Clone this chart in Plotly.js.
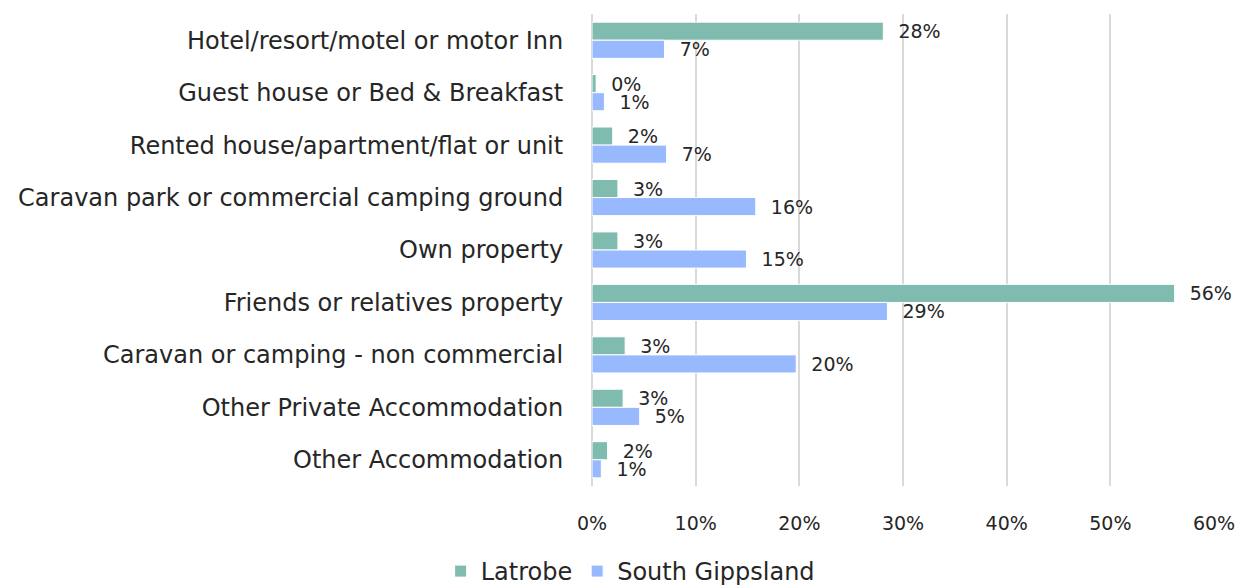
<!DOCTYPE html>
<html><head><meta charset="utf-8">
<script src="https://cdn.plot.ly/plotly-3.0.1.min.js"></script>
<style>html,body{margin:0;padding:0;background:#fff;overflow:hidden}#chart{width:1238px;height:594px}</style>
</head><body><div id="chart"></div>
<script>
const categories = [
  "Hotel/resort/motel or motor Inn",
  "Guest house or Bed & Breakfast",
  "Rented house/apartment/flat or unit",
  "Caravan park or commercial camping ground",
  "Own property",
  "Friends or relatives property",
  "Caravan or camping - non commercial",
  "Other Private Accommodation",
  "Other Accommodation"
];
const latrobe = [28.1, 0.4, 2.0, 2.5, 2.5, 56.2, 3.2, 3.0, 1.5];
const southGippsland = [7.0, 1.2, 7.2, 15.8, 14.9, 28.5, 19.7, 4.6, 0.9];
const xTickVals = [0, 10, 20, 30, 40, 50, 60];

const FONT = "'DejaVu Sans', 'Open Sans', sans-serif";
const textFont = {family:FONT, size:19, color:'#262626'};
const traces = [
  {type:'bar', orientation:'h', name:'Latrobe', y:categories, x:latrobe,
   marker:{color:'#7FBBAE', line:{color:'#ffffff', width:1}},
   texttemplate:'  %{x:.0f}%', textposition:'outside', cliponaxis:false, constraintext:'none',
   textfont:textFont, hoverinfo:'x+y'},
  {type:'bar', orientation:'h', name:'South Gippsland', y:categories, x:southGippsland,
   marker:{color:'#99B9FF', line:{color:'#ffffff', width:1}},
   texttemplate:'  %{x:.0f}%', textposition:'outside', cliponaxis:false, constraintext:'none',
   textfont:textFont, hoverinfo:'x+y'}
];
const layout = {
  width:1238, height:594,
  margin:{l:592, r:24, t:14, b:108},
  paper_bgcolor:'#fff', plot_bgcolor:'#fff',
  barmode:'group', bargap:0.31, bargroupgap:0,
  font:{family:FONT, color:'#262626'},
  xaxis:{range:[0,60], tickvals:xTickVals, ticktext:xTickVals.map(v=>v+'%'),
    showgrid:true, gridcolor:'#D9D9D9', gridwidth:2, zeroline:true, zerolinecolor:'#D9D9D9', zerolinewidth:2,
    showline:false, ticks:'outside', ticklen:20, tickcolor:'rgba(0,0,0,0)',
    tickfont:{family:FONT, size:19, color:'#262626'}, fixedrange:true},
  yaxis:{autorange:'reversed', showgrid:false, zeroline:false, showline:false,
    ticks:'outside', ticklen:23, tickcolor:'rgba(0,0,0,0)',
    tickfont:{family:FONT, size:24, color:'#262626'}, fixedrange:true},
  legend:{orientation:'h', x:0.509, xanchor:'center', xref:'container', y:0, yanchor:'bottom', yref:'container',
    font:{family:FONT, size:24, color:'#262626'}, itemwidth:30, traceorder:'normal'},
  showlegend:true
};
Plotly.newPlot('chart', traces, layout, {displayModeBar:false, staticPlot:true});
</script></body></html>
